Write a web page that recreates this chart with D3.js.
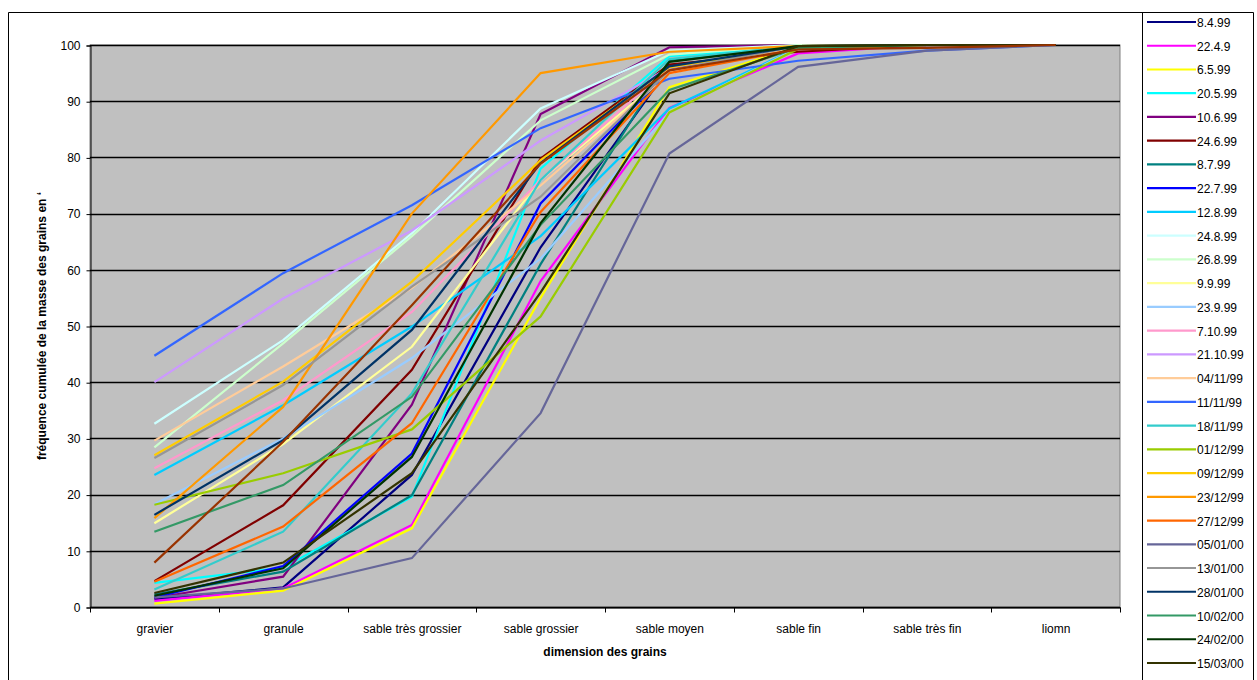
<!DOCTYPE html>
<html><head><meta charset="utf-8">
<script src="https://cdn.jsdelivr.net/npm/d3@7"></script>
<style>
html,body{margin:0;padding:0;background:#fff;}
svg{display:block;font-family:"Liberation Sans",Arial,sans-serif;}
</style></head>
<body><svg id="chart" width="1257" height="680"></svg>
<script>
const categories = ["gravier","granule","sable très grossier","sable grossier","sable moyen","sable fin","sable très fin","liomn"];
const yTicks = [0,10,20,30,40,50,60,70,80,90,100];
const seriesNames = ["8.4.99","22.4.9","6.5.99","20.5.99","10.6.99","24.6.99","8.7.99","22.7.99","12.8.99","24.8.99","26.8.99","9.9.99","23.9.99","7.10.99","21.10.99","04/11/99","11/11/99","18/11/99","01/12/99","09/12/99","23/12/99","27/12/99","05/01/00","13/01/00","28/01/00","10/02/00","24/02/00","15/03/00",""];
const seriesColors = ["#000080","#FF00FF","#FFFF00","#00FFFF","#800080","#800000","#008080","#0000FF","#00CCFF","#CCFFFF","#CCFFCC","#FFFF99","#99CCFF","#FF99CC","#CC99FF","#FFCC99","#3366FF","#33CCCC","#99CC00","#FFCC00","#FF9900","#FF6600","#666699","#969696","#003366","#339966","#003300","#333300","#993300"];
const s01 = [1.4, 3.5, 23.5, 64, 96, 99.8, 100, 100];
const s02 = [1.1, 3.3, 14.6, 58, 88.8, 98.5, 100, 100];
const s03 = [0.6, 2.9, 14.0, 55, 92.5, 99.7, 100, 100];
const s04 = [4.3, 7.0, 19.6, 78, 98, 99.8, 100, 100];
const s05 = [1.6, 5.4, 36, 87.7, 99.6, 100, 100, 100];
const s06 = [4.6, 18.1, 42.2, 79.8, 96.5, 98.8, 100, 100];
const s07 = [2.2, 6.3, 19.9, 61, 97.3, 99.8, 100, 100];
const s08 = [1.7, 7.3, 27.3, 71.8, 95.5, 99.8, 100, 100];
const s09 = [23.5, 35.9, 49.9, 66, 88.7, 99.5, 100, 100];
const s10 = [32.6, 47.5, 66.5, 88.7, 99, 100, 100, 100];
const s11 = [28.4, 46.9, 66, 86.6, 98.3, 100, 100, 100];
const s12 = [14.9, 29, 46.3, 76, 95, 99.8, 100, 100];
const s13 = [18.3, 30, 44.3, 62, 88, 99.5, 100, 100];
const s14 = [24.7, 36.8, 52.5, 76, 96, 99.8, 100, 100];
const s15 = [40, 54.9, 67, 83, 96, 99.8, 100, 100];
const s16 = [29.6, 42.8, 56.8, 75, 95, 99.8, 100, 100];
const s17 = [44.7, 59.4, 71.5, 85.2, 94, 97.2, 99, 100];
const s18 = [3.1, 13.4, 38, 76, 97.5, 99.8, 100, 100];
const s19 = [18.2, 23.8, 31.6, 51.7, 88, 99.3, 100, 100];
const s20 = [27, 40.1, 57.9, 79.5, 96, 99.8, 100, 100];
const s21 = [15.8, 35.6, 70, 95, 98.8, 99.8, 100, 100];
const s22 = [4.5, 14.3, 32.7, 70.3, 95, 99.3, 100, 100];
const s23 = [1.7, 3.3, 8.7, 34.5, 80.7, 96.1, 99, 100];
const s24 = [26.5, 39.5, 57, 73, 95.5, 99.8, 100, 100];
const s25 = [16.4, 29.7, 49.3, 79, 96.2, 99.8, 100, 100];
const s26 = [13.4, 21.7, 37.4, 68, 92, 99.5, 100, 100];
const s27 = [2.0, 6.9, 26.7, 68.3, 97, 99.8, 100, 100];
const s28 = [2.5, 7.9, 23.8, 56, 91.4, 99.8, 100, 100];
const s29 = [7.9, 29.4, 53.7, 78.9, 95.5, 99.2, 99.5, 100];
const seriesValues = [s01,s02,s03,s04,s05,s06,s07,s08,s09,s10,s11,s12,s13,s14,s15,s16,s17,s18,s19,s20,s21,s22,s23,s24,s25,s26,s27,s28,s29];

const svg = d3.select("#chart");
const L = 90, R = 1120, T = 45, B = 607;

// outer chart border
svg.append("path").attr("d","M8.5,690 V12.5 H1253.5 V690").attr("fill","none").attr("stroke","#000").attr("stroke-width",1);
// legend box
svg.append("path").attr("d","M1142.5,12.5 V690").attr("fill","none").attr("stroke","#000");

const x = d3.scaleBand().domain(categories).range([L,R]).padding(0);
const y = d3.scaleLinear().domain([0,100]).range([B,T]);

svg.append("rect").attr("x",L).attr("y",T).attr("width",R-L).attr("height",B-T).attr("fill","#C0C0C0").attr("stroke","#808080");

// gridlines
svg.append("g").selectAll("line").data(yTicks).join("line")
  .attr("x1",L).attr("x2",R).attr("y1",d=>Math.round(y(d))+0.5).attr("y2",d=>Math.round(y(d))+0.5)
  .attr("stroke","#000").attr("stroke-width",1.3);

// y axis
const yAxis = d3.axisLeft(y).tickValues(yTicks).tickSize(4).tickPadding(6);
const gy = svg.append("g").attr("transform",`translate(${L+0.5},0.5)`).call(yAxis);
gy.selectAll("text").attr("font-size",12).attr("fill","#000").attr("font-family","'Liberation Sans',Arial,sans-serif");
gy.select(".domain").attr("stroke","#000");

// x axis
const xAxis = d3.axisBottom(x).tickSize(0).tickPadding(17);
const gx = svg.append("g").attr("transform",`translate(0.5,${B+0.5})`).call(xAxis);
gx.selectAll("text").attr("font-size",12).attr("fill","#000").attr("font-family","'Liberation Sans',Arial,sans-serif");
gx.select(".domain").attr("stroke","#000");
// boundary ticks
const bounds = categories.map(c=>x(c)).concat([R]);
gx.append("g").selectAll("line").data(bounds).join("line")
  .attr("x1",d=>Math.round(d)).attr("x2",d=>Math.round(d)).attr("y1",0).attr("y2",5).attr("stroke","#000");

// titles
svg.append("text").attr("x",(L+R)/2).attr("y",656).attr("text-anchor","middle")
  .attr("font-size",12).attr("font-weight","bold").text("dimension des grains");
svg.append("text").attr("transform",`translate(46,${(T+B)/2}) rotate(-90)`).attr("text-anchor","middle")
  .attr("font-size",12).attr("font-weight","bold").text("fréquence cumulée de la masse des grains en ‘");

// lines
const line = d3.line().x((d,i)=>x(categories[i])+x.bandwidth()/2).y(d=>y(d));
svg.append("g").selectAll("path").data(seriesValues).join("path")
  .attr("d",line).attr("fill","none").attr("stroke",(d,i)=>seriesColors[i])
  .attr("stroke-width",2.2).attr("stroke-linejoin","miter");

// legend
const lg = svg.append("g");
const items = seriesNames.map((n,i)=>({n,c:seriesColors[i]})).filter(d=>d.n!=="");
items.forEach((d,i)=>{
  const yy = 22 + i*23.74;
  lg.append("line").attr("x1",1147).attr("x2",1196).attr("y1",yy).attr("y2",yy).attr("stroke",d.c).attr("stroke-width",2.2);
  lg.append("text").attr("x",1197).attr("y",yy+5).attr("font-size",12).attr("fill","#000").text(d.n);
});
</script>
</body></html>
